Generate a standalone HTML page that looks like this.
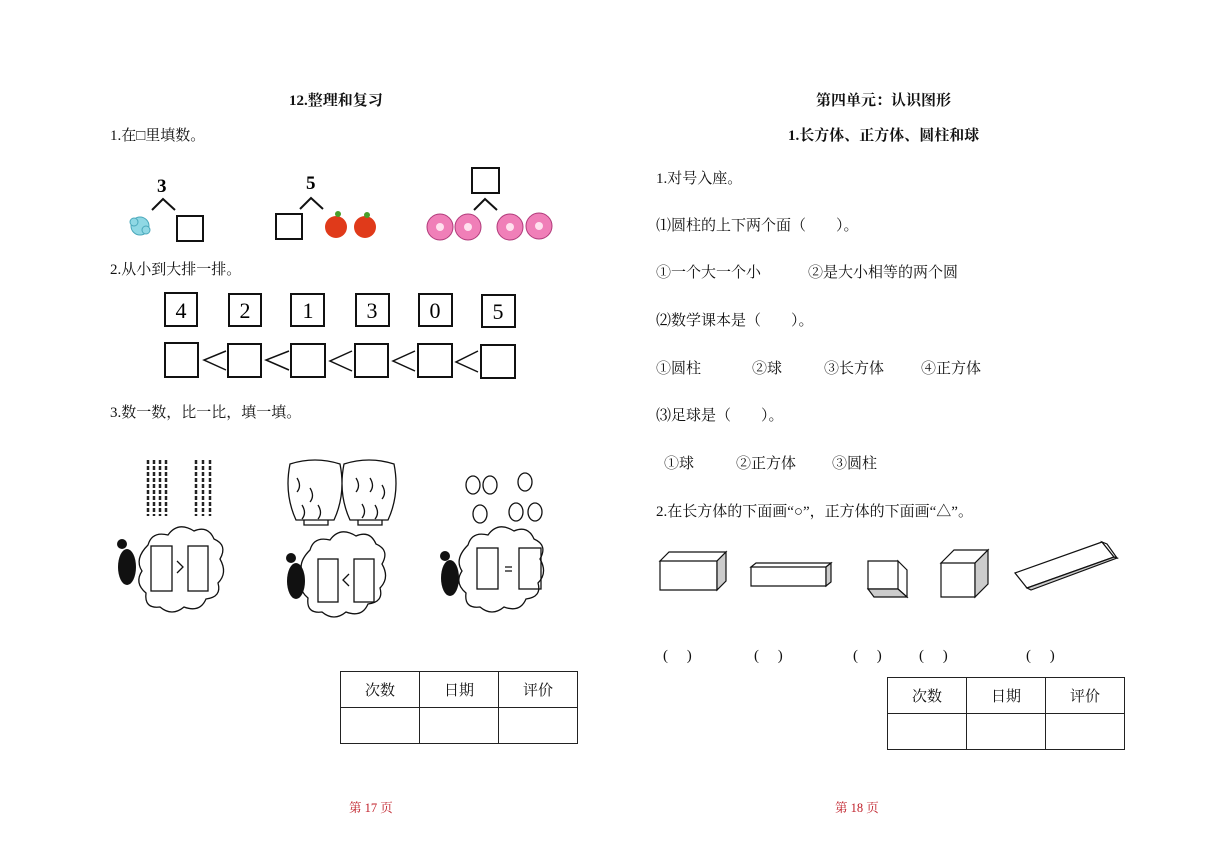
<!DOCTYPE html>
<html><head><meta charset="utf-8"><style>
body{margin:0;width:1227px;height:868px;background:#fff;position:relative;overflow:hidden;font-family:"Liberation Serif","Noto Serif CJK SC",serif;color:#111}
.t{position:absolute;font-size:15px;line-height:18px;white-space:nowrap}
.b{font-weight:bold}
.r{color:#c0202a;font-size:12.5px}
table{position:absolute;border-collapse:collapse}
td{border:1px solid #222;width:78px;height:35px;text-align:center;font-size:15px;padding:0}
svg{position:absolute;left:0;top:0}
</style></head><body>
<div class="t b" style="left:289px;top:92px">12.整理和复习</div>
<div class="t" style="left:110px;top:127px">1.在□里填数。</div>
<div class="t" style="left:110px;top:261px">2.从小到大排一排。</div>
<div class="t" style="left:110px;top:404px">3.数一数，比一比，填一填。</div>

<div class="t b" style="left:816px;top:92px">第四单元：认识图形</div>
<div class="t b" style="left:788px;top:127px">1.长方体、正方体、圆柱和球</div>
<div class="t" style="left:656px;top:170px">1.对号入座。</div>
<div class="t" style="left:656px;top:217px">⑴圆柱的上下两个面（　　）。</div>
<div class="t" style="left:656px;top:264px">①一个大一个小</div>
<div class="t" style="left:808px;top:264px">②是大小相等的两个圆</div>
<div class="t" style="left:656px;top:312px">⑵数学课本是（　　）。</div>
<div class="t" style="left:656px;top:360px">①圆柱</div>
<div class="t" style="left:752px;top:360px">②球</div>
<div class="t" style="left:824px;top:360px">③长方体</div>
<div class="t" style="left:921px;top:360px">④正方体</div>
<div class="t" style="left:656px;top:407px">⑶足球是（　　）。</div>
<div class="t" style="left:664px;top:455px">①球</div>
<div class="t" style="left:736px;top:455px">②正方体</div>
<div class="t" style="left:832px;top:455px">③圆柱</div>
<div class="t" style="left:656px;top:503px">2.在长方体的下面画“○”，正方体的下面画“△”。</div>
<div class="t" style="left:663px;top:647px">(　 )</div>
<div class="t" style="left:754px;top:647px">(　 )</div>
<div class="t" style="left:853px;top:647px">(　 )</div>
<div class="t" style="left:919px;top:647px">(　 )</div>
<div class="t" style="left:1026px;top:647px">(　 )</div>

<table style="left:340px;top:671px"><tr><td>次数</td><td>日期</td><td>评价</td></tr><tr><td></td><td></td><td></td></tr></table>
<table style="left:887px;top:677px"><tr><td>次数</td><td>日期</td><td>评价</td></tr><tr><td></td><td></td><td></td></tr></table>
<div class="t r" style="left:349px;top:799px">第 17 页</div>
<div class="t r" style="left:835px;top:799px">第 18 页</div>

<svg width="1227" height="868" font-family="Liberation Serif,serif">
<g fill="none" stroke="#111" stroke-width="2">
<polyline points="152,210 163,199 175,210"/>
<rect x="177" y="216" width="26" height="25"/>
<polyline points="300,209 311,198 323,209"/>
<rect x="276" y="214" width="26" height="25"/>
<rect x="472" y="168" width="27" height="25"/>
<polyline points="474,210 485,199 497,210"/>
</g>
<text x="157" y="192" font-size="19" font-weight="bold">3</text>
<text x="306" y="189" font-size="19" font-weight="bold">5</text>
<g fill="#8fd8e4" stroke="#4aa8bb"><circle cx="140" cy="226" r="9"/><circle cx="134" cy="222" r="4"/><circle cx="146" cy="230" r="4"/></g>
<g fill="#e03a1a"><circle cx="336" cy="227" r="11"/><circle cx="365" cy="227" r="11"/></g>
<g fill="#4a9e2a"><circle cx="338" cy="214" r="3"/><circle cx="367" cy="215" r="3"/></g>
<g fill="#f07fb8" stroke="#b03a7a"><circle cx="440" cy="227" r="13"/><circle cx="468" cy="227" r="13"/><circle cx="510" cy="227" r="13"/><circle cx="539" cy="226" r="13"/></g>
<g fill="#ffe0ee"><circle cx="440" cy="227" r="4"/><circle cx="468" cy="227" r="4"/><circle cx="510" cy="227" r="4"/><circle cx="539" cy="226" r="4"/></g>
<g fill="none" stroke="#111" stroke-width="2">
<rect x="165" y="293" width="32" height="33"/><rect x="229" y="294" width="32" height="32"/><rect x="291" y="294" width="33" height="32"/><rect x="356" y="294" width="33" height="32"/><rect x="419" y="294" width="33" height="32"/><rect x="482" y="295" width="33" height="32"/>
<rect x="165" y="343" width="33" height="34"/><rect x="228" y="344" width="33" height="33"/><rect x="291" y="344" width="34" height="33"/><rect x="355" y="344" width="33" height="33"/><rect x="418" y="344" width="34" height="33"/><rect x="481" y="345" width="34" height="33"/>
</g>
<g fill="none" stroke="#111" stroke-width="1.5">
<polyline points="226,351 204,360 226,370"/><polyline points="289,351 266,360 289,370"/><polyline points="352,351 330,361 352,371"/><polyline points="415,351 393,361 415,371"/><polyline points="478,351 456,362 478,372"/>
</g>
<g font-size="22" text-anchor="middle"><text x="181" y="318">4</text><text x="245" y="318">2</text><text x="308" y="318">1</text><text x="372" y="318">3</text><text x="435" y="318">0</text><text x="498" y="319">5</text></g>
<g stroke="#222" stroke-width="2.5" fill="none" stroke-dasharray="4,2">
<path d="M148,460 V516 M154,460 V516 M160,460 V516 M166,460 V516 M196,460 V516 M203,460 V516 M210,460 V516"/>
</g>
<g fill="none" stroke="#111" stroke-width="1.3">
<path d="M148,545 q4,-14 20,-10 q10,-14 26,-4 q14,-6 20,8 q14,6 6,20 q8,14 -2,24 q4,14 -12,16 q-6,14 -22,8 q-12,10 -24,0 q-16,2 -14,-14 q-12,-10 -4,-22 q-8,-12 6,-26z"/>
<rect x="151" y="546" width="21" height="45"/><rect x="188" y="546" width="20" height="45"/>
<path d="M177,561 l6,6 l-6,6"/>
<path d="M310,550 q4,-14 20,-10 q10,-14 26,-4 q14,-6 20,8 q14,6 6,20 q8,14 -2,24 q4,14 -12,16 q-6,14 -22,8 q-12,10 -24,0 q-16,2 -14,-14 q-12,-10 -4,-22 q-8,-12 6,-26z"/>
<rect x="318" y="559" width="20" height="43"/><rect x="354" y="559" width="20" height="43"/>
<path d="M349,574 l-6,6 l6,6"/>
<path d="M468,545 q4,-14 20,-10 q10,-14 26,-4 q14,-6 20,8 q14,6 6,20 q8,14 -2,24 q4,14 -12,16 q-6,14 -22,8 q-12,10 -24,0 q-16,2 -14,-14 q-12,-10 -4,-22 q-8,-12 6,-26z"/>
<rect x="477" y="548" width="21" height="41"/><rect x="519" y="548" width="22" height="41"/>
<path d="M505,567 h7 M505,571 h7"/>
<path d="M290,464 q25,-8 50,0 q6,30 -6,56 h-38 q-12,-26 -6,-56z M344,464 q25,-8 50,0 q6,30 -6,56 h-38 q-12,-26 -6,-56z"/>
<path d="M304,520 v5 h24 v-5 M358,520 v5 h24 v-5"/>
<ellipse cx="473" cy="485" rx="7" ry="9"/><ellipse cx="490" cy="485" rx="7" ry="9"/><ellipse cx="525" cy="482" rx="7" ry="9"/><ellipse cx="480" cy="514" rx="7" ry="9"/><ellipse cx="516" cy="512" rx="7" ry="9"/><ellipse cx="535" cy="512" rx="7" ry="9"/>
<path d="M297,478 q5,8 0,14 M310,488 q5,8 0,14 M302,505 q5,8 0,14 M318,505 q5,8 0,14 M356,478 q5,8 0,14 M370,478 q5,8 0,14 M382,485 q5,8 0,14 M362,504 q5,8 0,14 M375,505 q5,8 0,14"/>
</g>
<g fill="#111"><ellipse cx="127" cy="567" rx="9" ry="18"/><circle cx="122" cy="544" r="5"/><ellipse cx="296" cy="581" rx="9" ry="18"/><circle cx="291" cy="558" r="5"/><ellipse cx="450" cy="578" rx="9" ry="18"/><circle cx="445" cy="556" r="5"/></g>
<g stroke="#111" stroke-width="1.2" fill="#fff">
<path d="M660,561 h57 v29 h-57z M660,561 l9,-9 h57 l-9,9z"/>
<path d="M717,561 l9,-9 v29 l-9,9z" fill="#ccc"/>
<path d="M751,567 h75 v19 h-75z M751,567 l5,-4 h75 l-5,4z"/>
<path d="M826,567 l5,-4 v19 l-5,4z" fill="#ccc"/>
<path d="M868,561 h30 v28 h-30z M898,561 l9,9 v27 l-9,-8z"/>
<path d="M868,589 h30 l9,8 h-33z" fill="#ccc"/>
<path d="M941,563 h34 v34 h-34z M941,563 l13,-13 h34 l-13,13z"/>
<path d="M975,563 l13,-13 v34 l-13,13z" fill="#ccc"/>
<path d="M1015,573 l87,-31 l12,15 l-87,31z"/>
<path d="M1102,542 l5,2 l10,14 l-3,-1z"/>
<path d="M1027,588 l87,-31 l3,1 l-86,32z" fill="#ccc"/>
</g>
</svg>
</body></html>
